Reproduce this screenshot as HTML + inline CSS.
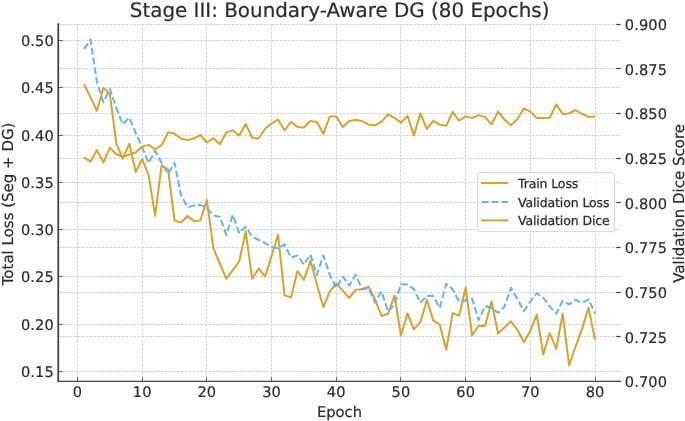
<!DOCTYPE html>
<html><head><meta charset="utf-8"><title>Stage III: Boundary-Aware DG</title>
<style>html,body{margin:0;padding:0;background:#fff;overflow:hidden}svg{display:block}</style></head>
<body>
<svg width="685" height="421" viewBox="0 0 685 421" text-rendering="geometricPrecision" font-family="'DejaVu Sans', 'Liberation Sans', sans-serif" fill="#2b2b2b">
<rect width="685" height="421" fill="#fff"/>
<g stroke="#cecece" stroke-width="0.9" stroke-dasharray="2.75,1.2" fill="none"><line x1="77.50" y1="24.0" x2="77.50" y2="381.4"/><line x1="142.50" y1="24.0" x2="142.50" y2="381.4"/><line x1="206.50" y1="24.0" x2="206.50" y2="381.4"/><line x1="271.50" y1="24.0" x2="271.50" y2="381.4"/><line x1="336.50" y1="24.0" x2="336.50" y2="381.4"/><line x1="400.50" y1="24.0" x2="400.50" y2="381.4"/><line x1="465.50" y1="24.0" x2="465.50" y2="381.4"/><line x1="530.50" y1="24.0" x2="530.50" y2="381.4"/><line x1="595.50" y1="24.0" x2="595.50" y2="381.4"/><line x1="58.25" y1="40.50" x2="620.0" y2="40.50"/><line x1="58.25" y1="87.50" x2="620.0" y2="87.50"/><line x1="58.25" y1="135.50" x2="620.0" y2="135.50"/><line x1="58.25" y1="182.50" x2="620.0" y2="182.50"/><line x1="58.25" y1="229.50" x2="620.0" y2="229.50"/><line x1="58.25" y1="276.50" x2="620.0" y2="276.50"/><line x1="58.25" y1="324.50" x2="620.0" y2="324.50"/><line x1="58.25" y1="371.50" x2="620.0" y2="371.50"/><line x1="58.25" y1="24.50" x2="616.1999999999999" y2="24.50"/><line x1="58.25" y1="68.50" x2="616.1999999999999" y2="68.50"/><line x1="58.25" y1="113.50" x2="616.1999999999999" y2="113.50"/><line x1="58.25" y1="158.50" x2="616.1999999999999" y2="158.50"/><line x1="58.25" y1="202.50" x2="616.1999999999999" y2="202.50"/><line x1="58.25" y1="247.50" x2="616.1999999999999" y2="247.50"/><line x1="58.25" y1="292.50" x2="616.1999999999999" y2="292.50"/><line x1="58.25" y1="336.50" x2="616.1999999999999" y2="336.50"/><line x1="58.25" y1="381.50" x2="616.1999999999999" y2="381.50"/></g>
<polyline points="83.97,84.30 90.44,97.10 96.91,110.80 103.38,88.00 109.84,94.10 116.31,143.40 122.78,158.80 129.25,143.70 135.72,172.00 142.19,159.00 148.66,175.50 155.13,215.80 161.60,165.30 168.07,169.40 174.54,220.50 181.00,222.60 187.47,216.00 193.94,221.10 200.41,220.50 206.88,200.10 213.35,248.10 219.82,263.50 226.29,278.80 232.76,270.20 239.22,261.40 245.69,231.30 252.16,278.80 258.63,268.60 265.10,276.70 271.57,255.90 278.04,234.70 284.51,295.40 290.98,297.40 297.45,271.00 303.92,280.00 310.38,260.70 316.85,284.20 323.32,307.30 329.79,291.30 336.26,283.50 342.73,290.70 349.20,298.10 355.67,289.70 362.14,289.30 368.61,286.80 375.07,299.50 381.54,316.00 388.01,313.80 394.48,295.50 400.95,335.50 407.42,313.50 413.89,329.40 420.36,322.20 426.83,299.70 433.30,320.60 439.76,324.70 446.23,349.80 452.70,313.00 459.17,315.70 465.64,287.50 472.11,335.50 478.58,325.70 485.05,325.90 491.52,301.50 497.99,333.50 504.45,327.40 510.92,321.30 517.39,330.00 523.86,342.20 530.33,330.70 536.80,314.60 543.27,354.50 549.74,333.00 556.21,349.00 562.67,313.60 569.14,365.30 575.61,346.30 582.08,328.90 588.55,307.50 595.02,339.80" fill="none" stroke="#dca02c" stroke-width="2.0" stroke-linejoin="round" stroke-linecap="butt"/>
<polyline points="83.97,49.10 90.44,39.60 96.91,81.90 103.38,102.20 109.84,89.00 116.31,108.10 122.78,124.30 129.25,117.70 135.72,133.00 142.19,147.50 148.66,163.00 155.13,150.90 161.60,163.00 168.07,174.00 174.54,162.80 181.00,195.00 187.47,207.20 193.94,205.60 200.41,204.80 206.88,208.00 213.35,215.60 219.82,216.70 226.29,235.00 232.76,214.80 239.22,233.00 245.69,226.70 252.16,236.50 258.63,240.00 265.10,243.00 271.57,247.10 278.04,248.20 284.51,244.40 290.98,257.50 297.45,255.40 303.92,264.60 310.38,254.40 316.85,274.90 323.32,255.40 329.79,274.90 336.26,288.20 342.73,276.60 349.20,285.60 355.67,274.60 362.14,289.30 368.61,288.20 375.07,302.60 381.54,291.30 388.01,311.70 394.48,304.50 400.95,284.30 407.42,284.60 413.89,289.10 420.36,302.80 426.83,295.70 433.30,296.10 439.76,307.90 446.23,283.80 452.70,289.50 459.17,301.80 465.64,300.20 472.11,298.70 478.58,320.20 485.05,305.90 491.52,308.30 497.99,312.80 504.45,306.70 510.92,287.80 517.39,299.00 523.86,311.10 530.33,301.50 536.80,293.20 543.27,297.70 549.74,306.50 556.21,313.60 562.67,300.90 569.14,304.40 575.61,299.70 582.08,303.00 588.55,299.30 595.02,313.60" fill="none" stroke="#62b5e5" stroke-width="2.0" stroke-dasharray="6.9,3.0" stroke-linejoin="round"/>
<polyline points="83.97,157.40 90.44,161.70 96.91,150.10 103.38,162.60 109.84,147.60 116.31,154.20 122.78,156.80 129.25,154.80 135.72,152.40 142.19,146.60 148.66,144.90 155.13,149.50 161.60,145.10 168.07,132.40 174.54,133.60 181.00,138.80 187.47,140.10 193.94,138.50 200.41,135.00 206.88,142.50 213.35,138.20 219.82,144.30 226.29,132.40 232.76,130.40 239.22,135.50 245.69,124.00 252.16,137.90 258.63,138.50 265.10,128.70 271.57,123.60 278.04,119.50 284.51,130.40 290.98,121.80 297.45,126.90 303.92,127.50 310.38,121.00 316.85,122.00 323.32,133.70 329.79,116.50 336.26,116.50 342.73,127.10 349.20,121.00 355.67,120.00 362.14,121.00 368.61,124.70 375.07,125.30 381.54,121.60 388.01,114.40 394.48,117.90 400.95,122.60 407.42,115.90 413.89,135.40 420.36,113.30 426.83,129.10 433.30,120.80 439.76,124.70 446.23,125.70 452.70,112.00 459.17,120.80 465.64,116.10 472.11,118.10 478.58,115.10 485.05,117.10 491.52,124.30 497.99,111.60 504.45,119.50 510.92,125.30 517.39,119.20 523.86,108.30 530.33,111.60 536.80,118.10 543.27,117.90 549.74,117.70 556.21,104.40 562.67,114.00 569.14,113.40 575.61,110.00 582.08,114.00 588.55,116.90 595.02,116.50" fill="none" stroke="#dca02c" stroke-width="2.0" stroke-linejoin="round"/>
<g stroke="#444" stroke-width="1"><line x1="77.50" y1="381.4" x2="77.50" y2="377.09999999999997" stroke-width="0.8"/><line x1="142.50" y1="381.4" x2="142.50" y2="377.09999999999997" stroke-width="0.8"/><line x1="206.50" y1="381.4" x2="206.50" y2="377.09999999999997" stroke-width="0.8"/><line x1="271.50" y1="381.4" x2="271.50" y2="377.09999999999997" stroke-width="0.8"/><line x1="336.50" y1="381.4" x2="336.50" y2="377.09999999999997" stroke-width="0.8"/><line x1="400.50" y1="381.4" x2="400.50" y2="377.09999999999997" stroke-width="0.8"/><line x1="465.50" y1="381.4" x2="465.50" y2="377.09999999999997" stroke-width="0.8"/><line x1="530.50" y1="381.4" x2="530.50" y2="377.09999999999997" stroke-width="0.8"/><line x1="595.50" y1="381.4" x2="595.50" y2="377.09999999999997" stroke-width="0.8"/><line x1="58.25" y1="40.50" x2="62.85" y2="40.50" stroke-width="0.8"/><line x1="58.25" y1="87.50" x2="62.85" y2="87.50" stroke-width="0.8"/><line x1="58.25" y1="135.50" x2="62.85" y2="135.50" stroke-width="0.8"/><line x1="58.25" y1="182.50" x2="62.85" y2="182.50" stroke-width="0.8"/><line x1="58.25" y1="229.50" x2="62.85" y2="229.50" stroke-width="0.8"/><line x1="58.25" y1="276.50" x2="62.85" y2="276.50" stroke-width="0.8"/><line x1="58.25" y1="324.50" x2="62.85" y2="324.50" stroke-width="0.8"/><line x1="58.25" y1="371.50" x2="62.85" y2="371.50" stroke-width="0.8"/><line x1="620.8" y1="24.50" x2="616.1999999999999" y2="24.50" stroke-width="1.2"/><line x1="620.8" y1="68.50" x2="616.1999999999999" y2="68.50" stroke-width="1.2"/><line x1="620.8" y1="113.50" x2="616.1999999999999" y2="113.50" stroke-width="1.2"/><line x1="620.8" y1="158.50" x2="616.1999999999999" y2="158.50" stroke-width="1.2"/><line x1="620.8" y1="202.50" x2="616.1999999999999" y2="202.50" stroke-width="1.2"/><line x1="620.8" y1="247.50" x2="616.1999999999999" y2="247.50" stroke-width="1.2"/><line x1="620.8" y1="292.50" x2="616.1999999999999" y2="292.50" stroke-width="1.2"/><line x1="620.8" y1="336.50" x2="616.1999999999999" y2="336.50" stroke-width="1.2"/><line x1="620.8" y1="381.50" x2="616.1999999999999" y2="381.50" stroke-width="1.2"/></g>
<path d="M58.25,23.3 V382.04999999999995" fill="none" stroke="#444" stroke-width="1.8"/>
<path d="M57.35,381.4 H620.8" fill="none" stroke="#444" stroke-width="1.3"/>
<g stroke="#2b2b2b" stroke-width="0.2" stroke-linejoin="round">
<text transform="translate(77.5,397) scale(1,1)" font-size="14.6" text-anchor="middle" letter-spacing="0.1">0</text>
<text transform="translate(142.19,397) scale(1,1)" font-size="14.6" text-anchor="middle" letter-spacing="0.1">10</text>
<text transform="translate(206.88,397) scale(1,1)" font-size="14.6" text-anchor="middle" letter-spacing="0.1">20</text>
<text transform="translate(271.57,397) scale(1,1)" font-size="14.6" text-anchor="middle" letter-spacing="0.1">30</text>
<text transform="translate(336.26,397) scale(1,1)" font-size="14.6" text-anchor="middle" letter-spacing="0.1">40</text>
<text transform="translate(400.95,397) scale(1,1)" font-size="14.6" text-anchor="middle" letter-spacing="0.1">50</text>
<text transform="translate(465.64,397) scale(1,1)" font-size="14.6" text-anchor="middle" letter-spacing="0.1">60</text>
<text transform="translate(530.33,397) scale(1,1)" font-size="14.6" text-anchor="middle" letter-spacing="0.1">70</text>
<text transform="translate(595.02,397) scale(1,1)" font-size="14.6" text-anchor="middle" letter-spacing="0.1">80</text>
<text transform="translate(53.9,46) scale(1,1)" font-size="14.6" text-anchor="end" letter-spacing="0.12">0.50</text>
<text transform="translate(53.9,93) scale(1,1)" font-size="14.6" text-anchor="end" letter-spacing="0.12">0.45</text>
<text transform="translate(53.9,141) scale(1,1)" font-size="14.6" text-anchor="end" letter-spacing="0.12">0.40</text>
<text transform="translate(53.9,188) scale(1,1)" font-size="14.6" text-anchor="end" letter-spacing="0.12">0.35</text>
<text transform="translate(53.9,235) scale(1,1)" font-size="14.6" text-anchor="end" letter-spacing="0.12">0.30</text>
<text transform="translate(53.9,282) scale(1,1)" font-size="14.6" text-anchor="end" letter-spacing="0.12">0.25</text>
<text transform="translate(53.9,330) scale(1,1)" font-size="14.6" text-anchor="end" letter-spacing="0.12">0.20</text>
<text transform="translate(53.9,377) scale(1,1)" font-size="14.6" text-anchor="end" letter-spacing="0.12">0.15</text>
<text transform="translate(624.8,30) scale(1,1)" font-size="14.6" text-anchor="start" letter-spacing="0.12">0.900</text>
<text transform="translate(624.8,75) scale(1,1)" font-size="14.6" text-anchor="start" letter-spacing="0.12">0.875</text>
<text transform="translate(624.8,119) scale(1,1)" font-size="14.6" text-anchor="start" letter-spacing="0.12">0.850</text>
<text transform="translate(624.8,164) scale(1,1)" font-size="14.6" text-anchor="start" letter-spacing="0.12">0.825</text>
<text transform="translate(624.8,209) scale(1,1)" font-size="14.6" text-anchor="start" letter-spacing="0.12">0.800</text>
<text transform="translate(624.8,253) scale(1,1)" font-size="14.6" text-anchor="start" letter-spacing="0.12">0.775</text>
<text transform="translate(624.8,298) scale(1,1)" font-size="14.6" text-anchor="start" letter-spacing="0.12">0.750</text>
<text transform="translate(624.8,343) scale(1,1)" font-size="14.6" text-anchor="start" letter-spacing="0.12">0.725</text>
<text transform="translate(624.8,387) scale(1,1)" font-size="14.6" text-anchor="start" letter-spacing="0.12">0.700</text>
<text transform="translate(339.5,416.8) scale(1,1)" font-size="14.7" text-anchor="middle" letter-spacing="0">Epoch</text>
<text transform="translate(13.0,203.9) rotate(-90) scale(1,1)" font-size="15.0" text-anchor="middle" letter-spacing="0">Total Loss (Seg + DG)</text>
<text transform="translate(683.7,203.4) rotate(-90) scale(1,1)" font-size="15.0" text-anchor="middle" letter-spacing="0">Validation Dice Score</text>
<text transform="translate(339.6,16.5) scale(1,1)" font-size="19.9" text-anchor="middle" letter-spacing="0">Stage III: Boundary-Aware DG (80 Epochs)</text>
</g>
<rect x="477.7" y="172.6" width="136.8" height="59.0" rx="2.5" ry="2.5" fill="#fff" fill-opacity="0.8" stroke="#cccccc" stroke-opacity="0.8" stroke-width="1"/>
<line x1="481.0" y1="183.0" x2="508.1" y2="183.0" stroke="#dca02c" stroke-width="2.0"/>
<line x1="481.6" y1="201.9" x2="508.1" y2="201.9" stroke="#62b5e5" stroke-width="2.0" stroke-dasharray="6.9,3.0"/>
<line x1="481.0" y1="220.4" x2="508.1" y2="220.4" stroke="#dca02c" stroke-width="2.0"/>
<text x="518" y="188" font-size="12.5" letter-spacing="-0.12" stroke="#2b2b2b" stroke-width="0.25">Train Loss</text>
<text x="518" y="206.5" font-size="12.5" letter-spacing="-0.12" stroke="#2b2b2b" stroke-width="0.25">Validation Loss</text>
<text x="518" y="225" font-size="12.5" letter-spacing="-0.12" stroke="#2b2b2b" stroke-width="0.25">Validation Dice</text>
</svg>
</body></html>
